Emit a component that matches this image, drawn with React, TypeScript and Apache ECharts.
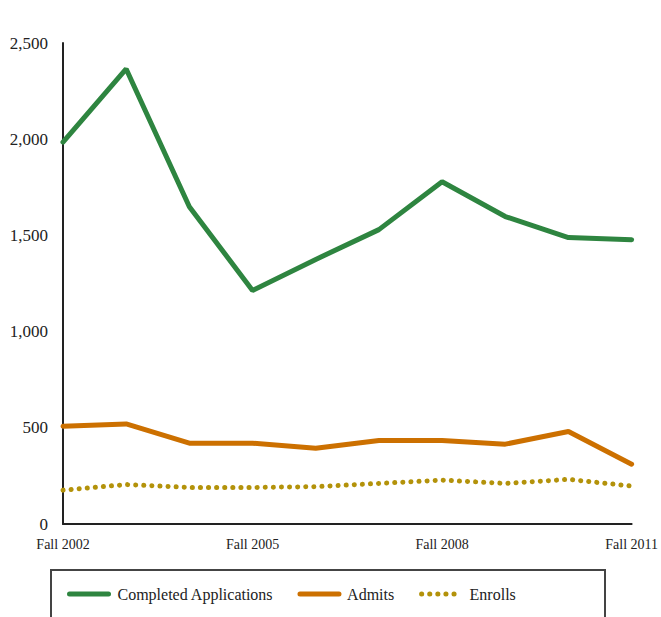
import React, { useEffect, useRef } from "react";
import * as echarts from "echarts";

const categories = ["Fall 2002", "Fall 2003", "Fall 2004", "Fall 2005", "Fall 2006", "Fall 2007", "Fall 2008", "Fall 2009", "Fall 2010", "Fall 2011"];
const completedApplications = [1985, 2365, 1649, 1214, 1375, 1530, 1779, 1598, 1489, 1478];
const admits = [508, 520, 420, 420, 394, 434, 434, 415, 481, 311];
const enrolls = [176, 205, 190, 190, 194, 211, 228, 211, 232, 197];
const yTicks = { min: 0, max: 2500, interval: 500 };

const FONT = "Liberation Serif";

export default function App() {
  const ref = useRef<HTMLDivElement>(null);
  useEffect(() => {
    if (!ref.current) return;
    const chart = echarts.init(ref.current, null, { renderer: "svg" });
    chart.setOption({
      animation: false,
      textStyle: { fontFamily: FONT },
      grid: { left: 63, right: 28, top: 43, bottom: 93, containLabel: false },
      xAxis: {
        type: "category",
        data: categories,
        boundaryGap: false,
        axisLine: { lineStyle: { color: "#222", width: 2 } },
        axisTick: { show: false },
        axisLabel: {
          interval: 2,
          color: "#222",
          fontFamily: FONT,
          fontSize: 14,
          margin: 13,
        },
        splitLine: { show: false },
      },
      yAxis: {
        type: "value",
        min: yTicks.min,
        max: yTicks.max,
        interval: yTicks.interval,
        axisLine: { show: true, lineStyle: { color: "#222", width: 2 } },
        axisTick: { show: false },
        splitLine: { show: false },
        axisLabel: {
          color: "#222",
          fontFamily: FONT,
          fontSize: 17,
          margin: 15,
          formatter: (v: number) => v.toLocaleString("en-US"),
        },
      },
      legend: {
        left: 62,
        top: 581,
        itemWidth: 39,
        itemHeight: 14,
        itemGap: 24,
        itemStyle: { opacity: 0 },
        lineStyle: { width: 5 },
        formatter: (n: string) => " " + n,
        textStyle: { fontFamily: FONT, fontSize: 16, color: "#222", fontWeight: "normal" },
        data: ["Completed Applications", "Admits", "Enrolls"],
      },
      graphic: [
        {
          type: "rect",
          shape: { x: 51, y: 570, width: 554, height: 80 },
          style: { fill: "none", stroke: "#444", lineWidth: 2 },
          silent: true,
        },
      ],
      series: [
        {
          name: "Completed Applications",
          type: "line",
          data: completedApplications,
          symbol: "none",
          lineStyle: { color: "#2E8540", width: 5, cap: "round" },
          itemStyle: { color: "#2E8540" },
        },
        {
          name: "Admits",
          type: "line",
          data: admits,
          symbol: "none",
          lineStyle: { color: "#CC7000", width: 5, cap: "round" },
          itemStyle: { color: "#CC7000" },
        },
        {
          name: "Enrolls",
          type: "line",
          data: enrolls,
          symbol: "none",
          lineStyle: { color: "#B3920A", width: 5, type: [0.1, 8], cap: "round" },
          itemStyle: { color: "#B3920A" },
        },
      ],
    });
    return () => chart.dispose();
  }, []);
  return <div ref={ref} style={{ width: 661, height: 617, position: "absolute", left: 0, top: 0 }} />;
}
